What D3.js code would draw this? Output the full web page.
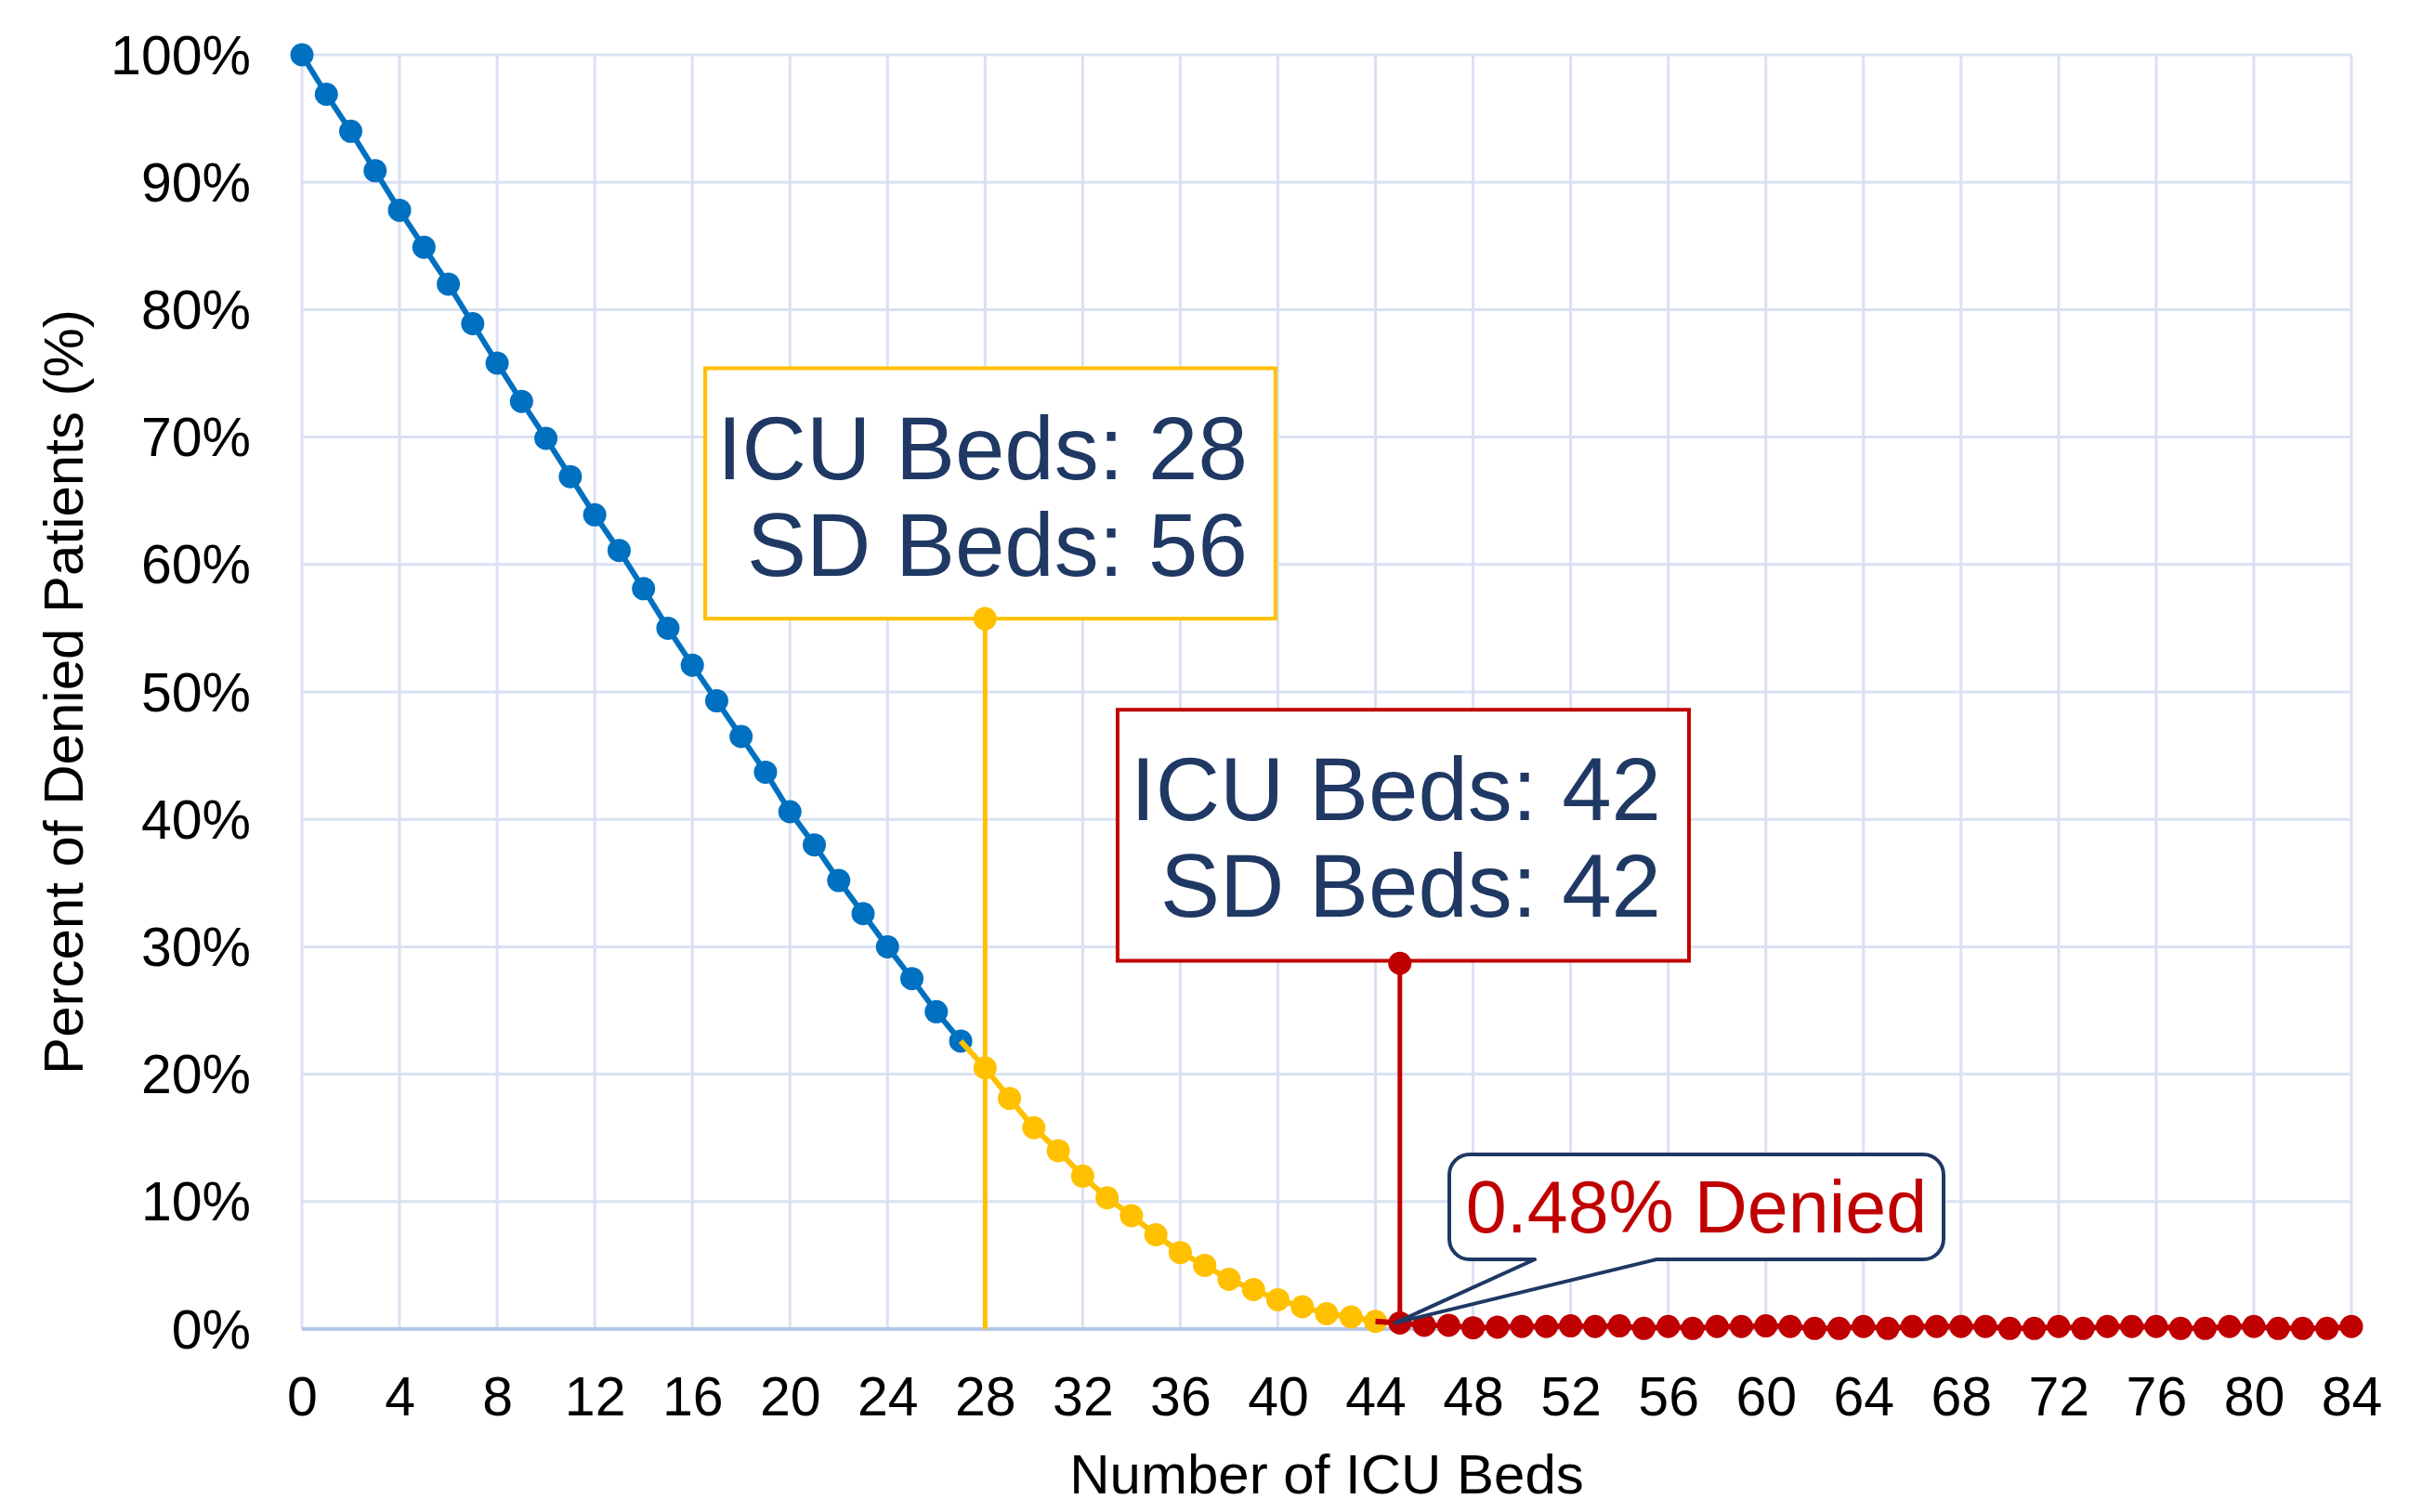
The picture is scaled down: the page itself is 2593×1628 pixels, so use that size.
<!DOCTYPE html>
<html>
<head>
<meta charset="utf-8">
<script src="https://cdn.jsdelivr.net/npm/d3@7"></script>
<style>
    html, body { margin: 0; padding: 0; background: #fff; }
    svg { display: block; font-family: "Liberation Sans", Arial, sans-serif; }
</style>
</head>
<body>
<svg id="chart" width="2593" height="1628"></svg>
<script>
// Denied patients vs number of ICU beds

const xTicks = [0, 4, 8, 12, 16, 20, 24, 28, 32, 36, 40, 44, 48, 52, 56, 60, 64, 68, 72, 76, 80, 84];
const yTicks = [0, 10, 20, 30, 40, 50, 60, 70, 80, 90, 100];

// blue segment: 0..27 beds
const blueStart = 0;
const blueValues = [100, 96.9, 94.0, 90.9, 87.8, 84.9, 82.0, 78.9, 75.8, 72.8, 69.9, 66.9, 63.9, 61.1,
    58.1, 55.0, 52.1, 49.3, 46.5, 43.7, 40.6, 38.0, 35.2, 32.6, 30.0, 27.5, 24.9, 22.6];

// yellow segment: 28..44 beds
const yellowStart = 28;
const yellowValues = [20.5, 18.1, 15.8, 14.0, 12.0, 10.3, 8.9, 7.4, 6.0, 5.0, 3.9, 3.1, 2.3, 1.75, 1.2, 0.95, 0.6];

// red segment: 45..84 beds
const redStart = 45;
const redValues = [0.48, 0.3, 0.3, 0.1, 0.15, 0.2, 0.2, 0.25, 0.2, 0.25,
    0.05, 0.2, 0.05, 0.2, 0.2, 0.25, 0.2, 0.05, 0.05, 0.2,
    0.05, 0.2, 0.2, 0.2, 0.2, 0.05, 0.05, 0.2, 0.05, 0.2,
    0.2, 0.2, 0.05, 0.05, 0.2, 0.2, 0.05, 0.05, 0.05, 0.2];

// drop lines with their labels
const dropLines = [
    { beds: 28, top: 55.75, color: '#FFC000', lines: ['ICU Beds: 28', 'SD Beds: 56'], box: [16.53, 39.9, 75.4, 55.75] },
    { beds: 45, top: 28.7, color: '#C00000', lines: ['ICU Beds: 42', 'SD Beds: 42'], box: [33.43, 56.85, 48.6, 28.9] },
];

const calloutText = '0.48% Denied';

class DenialChart {
    constructor(config) {
        this.config = {
            width: 2593,
            height: 1628,
            plot: { left: 325, right: 2531, top: 59, bottom: 1431 },
            colors: {
                blue: '#0070C0',
                yellow: '#FFC000',
                red: '#C00000',
                navy: '#1F3864',
                grid: '#D9E1F2',
                axis: '#B4C7E7',
            },
            markerRadius: 12.5,
            lineWidth: 6,
            ...config,
        };

        this.svg = d3.select('#chart');
        this.init();
    }

    init() {
        const { plot } = this.config;
        this.x = d3.scaleLinear().domain([0, 84]).range([plot.left, plot.right]);
        this.y = d3.scaleLinear().domain([0, 100]).range([plot.bottom, plot.top]);

        this.drawGrid();
        this.drawAxes();
        this.drawDropLines();
        this.drawSeries();
        this.drawCallout();
    }

    drawGrid() {
        const { plot, colors } = this.config;
        const grid = this.svg.append('g').attr('class', 'grid');

        grid.selectAll('line.v')
            .data(xTicks)
            .enter()
            .append('line')
            .attr('x1', d => this.x(d))
            .attr('x2', d => this.x(d))
            .attr('y1', plot.top)
            .attr('y2', plot.bottom)
            .attr('stroke', colors.grid)
            .attr('stroke-width', 3);

        grid.selectAll('line.h')
            .data(yTicks.filter(d => d > 0))
            .enter()
            .append('line')
            .attr('x1', plot.left)
            .attr('x2', plot.right)
            .attr('y1', d => this.y(d))
            .attr('y2', d => this.y(d))
            .attr('stroke', colors.grid)
            .attr('stroke-width', 3);

        // bottom axis line
        grid.append('line')
            .attr('x1', plot.left)
            .attr('x2', plot.right)
            .attr('y1', this.y(0))
            .attr('y2', this.y(0))
            .attr('stroke', colors.axis)
            .attr('stroke-width', 4);
    }

    drawAxes() {
        const { plot } = this.config;

        const yAxis = d3.axisLeft(this.y)
            .tickValues(yTicks)
            .tickFormat(d => d + '%')
            .tickSize(0)
            .tickPadding(55);

        this.svg.append('g')
            .attr('transform', `translate(${plot.left},0)`)
            .call(yAxis)
            .call(g => g.select('.domain').remove())
            .call(g => g.selectAll('text')
                .attr('font-family', '"Liberation Sans", Arial, sans-serif')
                .attr('font-size', 59)
                .attr('fill', '#000')
                .attr('dy', '0.34em'));

        const xAxis = d3.axisBottom(this.x)
            .tickValues(xTicks)
            .tickFormat(d3.format('d'))
            .tickSize(0)
            .tickPadding(0);

        this.svg.append('g')
            .attr('transform', `translate(0,${plot.bottom})`)
            .call(xAxis)
            .call(g => g.select('.domain').remove())
            .call(g => g.selectAll('text')
                .attr('font-family', '"Liberation Sans", Arial, sans-serif')
                .attr('font-size', 59)
                .attr('fill', '#000')
                .attr('y', 93)
                .attr('dy', 0));

        this.svg.append('text')
            .attr('x', (plot.left + plot.right) / 2)
            .attr('y', 1608)
            .attr('text-anchor', 'middle')
            .attr('font-size', 60)
            .attr('fill', '#000')
            .text('Number of ICU Beds');

        this.svg.append('text')
            .attr('transform', `translate(89,${(plot.top + plot.bottom) / 2}) rotate(-90)`)
            .attr('text-anchor', 'middle')
            .attr('font-size', 60)
            .attr('fill', '#000')
            .text('Percent of Denied Patients (%)');
    }

    drawDropLines() {
        const { colors, markerRadius } = this.config;
        const g = this.svg.append('g').attr('class', 'drop-lines');

        dropLines.forEach(d => {
            const [x0, x1, y0, y1] = d.box;
            const bx = this.x(x0), bw = this.x(x1) - this.x(x0);
            const by = this.y(y0), bh = this.y(y1) - this.y(y0);

            g.append('rect')
                .attr('x', bx)
                .attr('y', by)
                .attr('width', bw)
                .attr('height', bh)
                .attr('fill', '#fff')
                .attr('stroke', d.color)
                .attr('stroke-width', 4);

            g.append('line')
                .attr('x1', this.x(d.beds))
                .attr('x2', this.x(d.beds))
                .attr('y1', this.y(d.top))
                .attr('y2', this.y(0))
                .attr('stroke', d.color)
                .attr('stroke-width', 5);

            g.append('circle')
                .attr('cx', this.x(d.beds))
                .attr('cy', this.y(d.top))
                .attr('r', markerRadius)
                .attr('fill', d.color);

            d.lines.forEach((line, i) => {
                g.append('text')
                    .attr('x', bx + bw - 30)
                    .attr('y', by + 119 + i * 104)
                    .attr('text-anchor', 'end')
                    .attr('font-size', 96)
                    .attr('fill', colors.navy)
                    .text(line);
            });
        });
    }

    drawSeries() {
        const { colors, markerRadius, lineWidth } = this.config;
        const toPoints = (start, values) => values.map((v, i) => ({ beds: start + i, pct: v }));

        const blue = toPoints(blueStart, blueValues);
        const yellow = toPoints(yellowStart, yellowValues);
        const red = toPoints(redStart, redValues);

        // each segment's line starts at the previous segment's last point
        const series = [
            { points: blue, line: blue, color: colors.blue },
            { points: yellow, line: [blue[blue.length - 1], ...yellow], color: colors.yellow },
            { points: red, line: [yellow[yellow.length - 1], ...red], color: colors.red },
        ];

        const lineGen = d3.line()
            .x(d => this.x(d.beds))
            .y(d => this.y(d.pct));

        const g = this.svg.append('g').attr('class', 'series');

        series.forEach(s => {
            g.append('path')
                .datum(s.line)
                .attr('d', lineGen)
                .attr('fill', 'none')
                .attr('stroke', s.color)
                .attr('stroke-width', lineWidth)
                .attr('stroke-linejoin', 'round');

            g.selectAll(null)
                .data(s.points)
                .enter()
                .append('circle')
                .attr('cx', d => this.x(d.beds))
                .attr('cy', d => this.y(d.pct))
                .attr('r', markerRadius)
                .attr('fill', s.color);
        });
    }

    drawCallout() {
        const { colors } = this.config;
        const left = 1560, right = 2092, top = 1243, bottom = 1356, r = 22;
        const tipX = this.x(redStart) - 5;
        const tipY = this.y(redValues[0]);
        const baseA = 1652, baseB = 1783;

        const path = d3.path();
        path.moveTo(left + r, top);
        path.lineTo(right - r, top);
        path.arcTo(right, top, right, top + r, r);
        path.lineTo(right, bottom - r);
        path.arcTo(right, bottom, right - r, bottom, r);
        path.lineTo(baseB, bottom);
        path.lineTo(tipX, tipY);
        path.lineTo(baseA, bottom);
        path.lineTo(left + r, bottom);
        path.arcTo(left, bottom, left, bottom - r, r);
        path.lineTo(left, top + r);
        path.arcTo(left, top, left + r, top, r);
        path.closePath();

        this.svg.append('path')
            .attr('d', path.toString())
            .attr('fill', '#fff')
            .attr('stroke', colors.navy)
            .attr('stroke-width', 4)
            .attr('stroke-linejoin', 'round');

        this.svg.append('text')
            .attr('x', (left + right) / 2)
            .attr('y', 1327)
            .attr('text-anchor', 'middle')
            .attr('font-size', 79)
            .attr('fill', colors.red)
            .text(calloutText);
    }
}

new DenialChart();
</script>
</body>
</html>
